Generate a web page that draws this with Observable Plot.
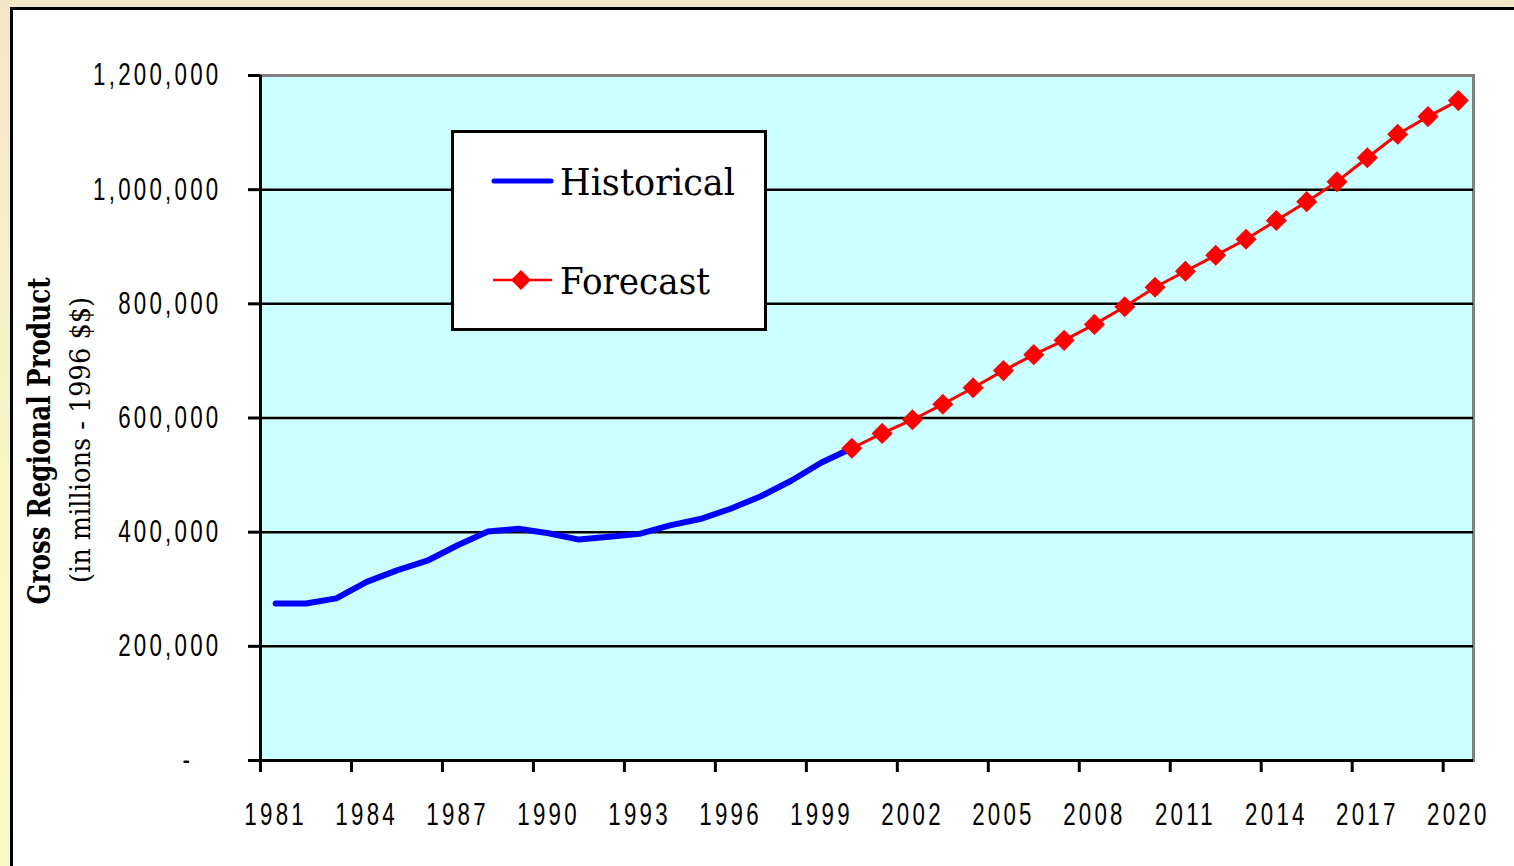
<!DOCTYPE html>
<html>
<head>
<meta charset="utf-8">
<script src="https://cdn.jsdelivr.net/npm/d3@7"></script>
<script src="https://cdn.jsdelivr.net/npm/@observablehq/plot@0.6"></script>
<style>
  html, body { margin: 0; padding: 0; }
  body {
    width: 1514px; height: 866px; overflow: hidden; position: relative;
    background: linear-gradient(to bottom, #F3E6C8 0%, #F6EFC8 30%, #F9F8C2 60%, #FAFBC0 100%);
  }
  #panel {
    position: absolute; left: 10px; top: 7px; width: 1520px; height: 880px;
    background: #fff; border-top: 3px solid #000; border-left: 3px solid #000;
  }
  #chart { position: absolute; left: 0; top: 0; }
  #overlay { position: absolute; left: 0; top: 0; pointer-events: none; }
  #overlay text { font-family: "DejaVu Serif", "Liberation Serif", serif; fill: #000; }
</style>
</head>
<body>
<div id="panel"></div>
<div id="chart"></div>
<svg id="overlay" width="1514" height="866">
  <text transform="translate(50,441) rotate(-90)" text-anchor="middle" font-size="31" font-weight="bold"
        textLength="327" lengthAdjust="spacingAndGlyphs">Gross Regional Product</text>
  <text transform="translate(90,440) rotate(-90)" text-anchor="middle" font-size="28"
        textLength="286" lengthAdjust="spacingAndGlyphs">(in millions - 1996 $$)</text>
  <g id="legend">
    <rect x="452.5" y="131.5" width="313" height="198" fill="#fff" stroke="#000" stroke-width="3"></rect>
    <line x1="494" x2="551" y1="181" y2="181" stroke="#0000FF" stroke-width="5" stroke-linecap="round"></line>
    <line x1="493" x2="552" y1="280" y2="280" stroke="#FF0000" stroke-width="2.5"></line>
    <path d="M521,270 L531,280 L521,290 L511,280 Z" fill="#FF0000"></path>
    <text x="560" y="195" font-size="38" textLength="175" lengthAdjust="spacingAndGlyphs">Historical</text>
    <text x="560" y="294" font-size="38" textLength="150" lengthAdjust="spacingAndGlyphs">Forecast</text>
  </g>
</svg>
<script>
// ---- data ----
const histYears = [1981, 1982, 1983, 1984, 1985, 1986, 1987, 1988, 1989, 1990,
                   1991, 1992, 1993, 1994, 1995, 1996, 1997, 1998, 1999, 2000];
const histValues = [275000, 275000, 284000, 313000, 333000, 350000, 377000, 401000, 406000, 398000,
                    387000, 392000, 397000, 412000, 423000, 441000, 463000, 490000, 522000, 547000];
const forecastYears = [2000, 2001, 2002, 2003, 2004, 2005, 2006, 2007, 2008, 2009, 2010,
                       2011, 2012, 2013, 2014, 2015, 2016, 2017, 2018, 2019, 2020];
const forecastValues = [547000, 573000, 597000, 624000, 653000, 683000, 711000, 736000, 764000, 795000, 829000,
                        857000, 885000, 913000, 946000, 979000, 1014000, 1056000, 1097000, 1128000, 1156000];
const xLabelYears = [1981, 1984, 1987, 1990, 1993, 1996, 1999, 2002, 2005, 2008, 2011, 2014, 2017, 2020];
const yTicks = [0, 200000, 400000, 600000, 800000, 1000000, 1200000];
const gridValues = [200000, 400000, 600000, 800000, 1000000];

const hist = histYears.map((year, i) => ({year, value: histValues[i]}));
const forecast = forecastYears.map((year, i) => ({year, value: forecastValues[i]}));
// Category boundaries (Excel-style tick marks between categories)
const xTickBounds = xLabelYears.map(y => y - 0.5);

const plot = Plot.plot({
  width: 1514,
  height: 866,
  marginLeft: 260,
  marginRight: 41,
  marginTop: 75,
  marginBottom: 106,
  x: {domain: [1980.5, 2020.5]},
  y: {domain: [0, 1200000]},
  style: {
    background: "transparent",
    fontFamily: "'Liberation Sans', Arial, sans-serif",
    fontSize: "31px",
    letterSpacing: "4.5px",
    color: "#000"
  },
  marks: [
    Plot.frame({fill: "#CCFFFF", stroke: "#808080", strokeWidth: 3}),
    Plot.ruleY(gridValues, {stroke: "#000", strokeWidth: 2.5}),
    Plot.ruleY([0], {stroke: "#000", strokeWidth: 3}),
    Plot.ruleX([1980.5], {stroke: "#000", strokeWidth: 3}),
    Plot.axisY({
      ticks: yTicks, tickSize: 12, tickPadding: 27, strokeWidth: 3,
      tickFormat: d => d === 0 ? "-\u00a0\u00a0\u00a0" : d3.format(",")(d),
      label: null
    }),
    Plot.axisX({ticks: xTickBounds, tickSize: 12, strokeWidth: 3, tickFormat: () => "", label: null}),
    Plot.axisX({ticks: xLabelYears, tickSize: 0, tickPadding: 42, tickFormat: d => String(d), label: null}),
    Plot.line(hist, {x: "year", y: "value", stroke: "#0000FF", strokeWidth: 6, strokeLinejoin: "round", strokeLinecap: "round"}),
    Plot.line(forecast, {x: "year", y: "value", stroke: "#FF0000", strokeWidth: 3}),
    Plot.dot(forecast, {x: "year", y: "value", symbol: "diamond2", r: 9.5, fill: "#FF0000", stroke: "none"})
  ]
});
document.getElementById("chart").appendChild(plot);

// Narrow the tick-label glyphs horizontally (Arial Narrow look)
d3.select(plot).selectAll('g[aria-label="y-axis tick label"] text, g[aria-label="x-axis tick label"] text')
  .each(function () {
    const t = this.getAttribute("transform") || "";
    this.setAttribute("transform", t + " scale(0.72,1)");
  });
</script>
</body>
</html>
